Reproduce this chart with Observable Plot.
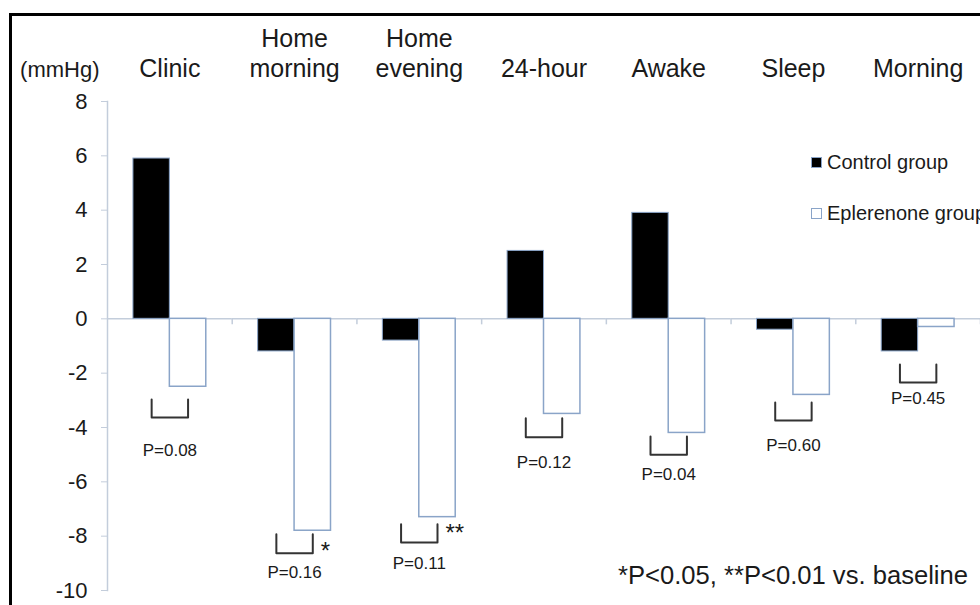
<!DOCTYPE html>
<html>
<head>
<meta charset="utf-8">
<script src="https://cdn.jsdelivr.net/npm/d3@7"></script>
<script src="https://cdn.jsdelivr.net/npm/@observablehq/plot@0.6"></script>
<style>
  html, body { margin: 0; padding: 0; background: #fff; }
  #wrap { position: relative; width: 980px; height: 605px; overflow: hidden; font-family: "Liberation Sans", Arial, sans-serif; color: #1a1a1a; }
  #wrap svg { position: absolute; left: 0; top: 0; }
  .border { position: absolute; left: 9px; top: 13px; width: 1000px; height: 620px; border-left: 3px solid #000; border-top: 3px solid #000; pointer-events: none; }
  .legend { position: absolute; left: 811px; top: 149px; font-size: 20px; }
  .legend .row { display: flex; align-items: center; height: 26px; margin-bottom: 25px; white-space: nowrap; }
  .legend .sw { width: 9px; height: 9px; border: 1px solid #8aa4c8; margin-right: 5px; }
  .note { position: absolute; left: 618px; top: 560px; font-size: 25.6px; line-height: 30px; white-space: nowrap; }
</style>
</head>
<body>
<div id="wrap">
  <div class="border"></div>
</div>
<script>
// ---- data ----
const categories = ["Clinic", "Home morning", "Home evening", "24-hour", "Awake", "Sleep", "Morning"];
const categoryLabels = ["Clinic", "Home\nmorning", "Home\nevening", "24-hour", "Awake", "Sleep", "Morning"];
const groups = ["Control group", "Eplerenone group"];
const controlValues = [5.9, -1.2, -0.8, 2.5, 3.9, -0.4, -1.2];
const eplerenoneValues = [-2.5, -7.8, -7.3, -3.5, -4.2, -2.8, -0.3];
const pLabels = ["P=0.08", "P=0.16", "P=0.11", "P=0.12", "P=0.04", "P=0.60", "P=0.45"];
const bracketTop = [-2.97, -7.93, -7.56, -3.66, -4.33, -3.08, -1.68];
const bracketBottom = [-3.63, -8.63, -8.23, -4.36, -5.0, -3.74, -2.34];
const pLabelY = [-4.84, -9.33, -9.0, -5.28, -5.73, -4.66, -2.93];
const starLabels = ["", "*", "**", "", "", "", ""];
const starY = [0, -8.56, -7.89, 0, 0, 0, 0];
const yTicks = [8, 6, 4, 2, 0, -2, -4, -6, -8, -10];
const yUnit = "(mmHg)";
const footnote = "*P<0.05, **P<0.01 vs. baseline";

// ---- layout / style ----
const W = 980, H = 605, ML = 107, MR = 0, MT = 101, MB = 15;
const paddingOuter = 0.712;
const facetW = (W - ML - MR) / categories.length;
const step = facetW / (groups.length + 2 * paddingOuter);
const eplCenter = paddingOuter * step + 1.5 * step;
const boundaryDx = facetW - eplCenter;
const axisColor = "#c3cddb";
const barStroke = "#8aa4c8";
const textColor = "#1a1a1a";

// ---- tables ----
const rows = categories.map((c, i) => ({
  category: c, label: categoryLabels[i], control: controlValues[i], eplerenone: eplerenoneValues[i],
  p: pLabels[i], pY: pLabelY[i], star: starLabels[i], starY: starY[i]
}));
const controlBars = rows.map(r => ({category: r.category, group: groups[0], value: r.control}));
const eplBars = rows.map(r => ({category: r.category, group: groups[1], value: r.eplerenone}));
const bracketPts = categories.flatMap((c, i) => [
  {category: c, group: groups[0], y: bracketTop[i]},
  {category: c, group: groups[0], y: bracketBottom[i]},
  {category: c, group: groups[1], y: bracketBottom[i]},
  {category: c, group: groups[1], y: bracketTop[i]}
]);
const starRows = rows.filter(r => r.star !== "");

const chart = Plot.plot({
  width: W, height: H,
  marginLeft: ML, marginRight: MR, marginTop: MT, marginBottom: MB,
  style: {fontFamily: '"Liberation Sans", Arial, sans-serif', color: textColor, background: "transparent", overflow: "visible"},
  fx: {domain: categories, padding: 0, round: false, axis: null},
  x: {domain: groups, paddingInner: 0, paddingOuter: paddingOuter, round: false, axis: null},
  y: {domain: [-10, 8]},
  marks: [
    Plot.frame({anchor: "left", facetAnchor: "left", stroke: axisColor, strokeWidth: 1.5}),
    Plot.axisY(yTicks, {tickSize: 6, tickPadding: 14, fontSize: 22, stroke: axisColor, fill: textColor, tickFormat: d => String(d), label: null}),
    Plot.ruleY([0], {stroke: axisColor, strokeWidth: 1.5}),
    Plot.ruleX(rows, {fx: "category", x: () => groups[1], dx: boundaryDx, y1: 0, y2: 0, insetBottom: -6, stroke: axisColor, strokeWidth: 1.5}),
    Plot.barY(controlBars, {fx: "category", x: "group", y: "value", fill: "#000", stroke: barStroke, strokeWidth: 1}),
    Plot.barY(eplBars, {fx: "category", x: "group", y: "value", fill: "#fff", stroke: barStroke, strokeWidth: 1.5}),
    Plot.line(bracketPts, {fx: "category", x: "group", y: "y", z: "category", stroke: "#333", strokeWidth: 2, curve: "linear"}),
    Plot.text(rows, {fx: "category", y: "pY", text: "p", fontSize: 17, fill: textColor}),
    Plot.text(starRows, {fx: "category", x: () => groups[1], y: "starY", text: "star", textAnchor: "start", dx: 8, fontSize: 24, fill: textColor}),
    Plot.text(rows, {fx: "category", text: "label", frameAnchor: "top", lineAnchor: "bottom", lineHeight: 1.2, dy: -25, fontSize: 25, fill: textColor}),
    Plot.text([yUnit], {fx: () => categories[0], text: d => d, frameAnchor: "top-left", textAnchor: "end", lineAnchor: "bottom", dx: -8, dy: -25, fontSize: 22, fill: textColor})
  ]
});

const wrap = document.getElementById("wrap");
wrap.insertBefore(chart, wrap.firstChild);

// legend
const legend = document.createElement("div");
legend.className = "legend";
const fills = ["#000", "#fff"];
groups.forEach((g, i) => {
  const row = document.createElement("div");
  row.className = "row";
  const sw = document.createElement("span");
  sw.className = "sw";
  sw.style.background = fills[i];
  const t = document.createElement("span");
  t.textContent = g;
  row.appendChild(sw); row.appendChild(t);
  legend.appendChild(row);
});
wrap.appendChild(legend);

const note = document.createElement("div");
note.className = "note";
note.textContent = footnote;
wrap.appendChild(note);
</script>
</body>
</html>
